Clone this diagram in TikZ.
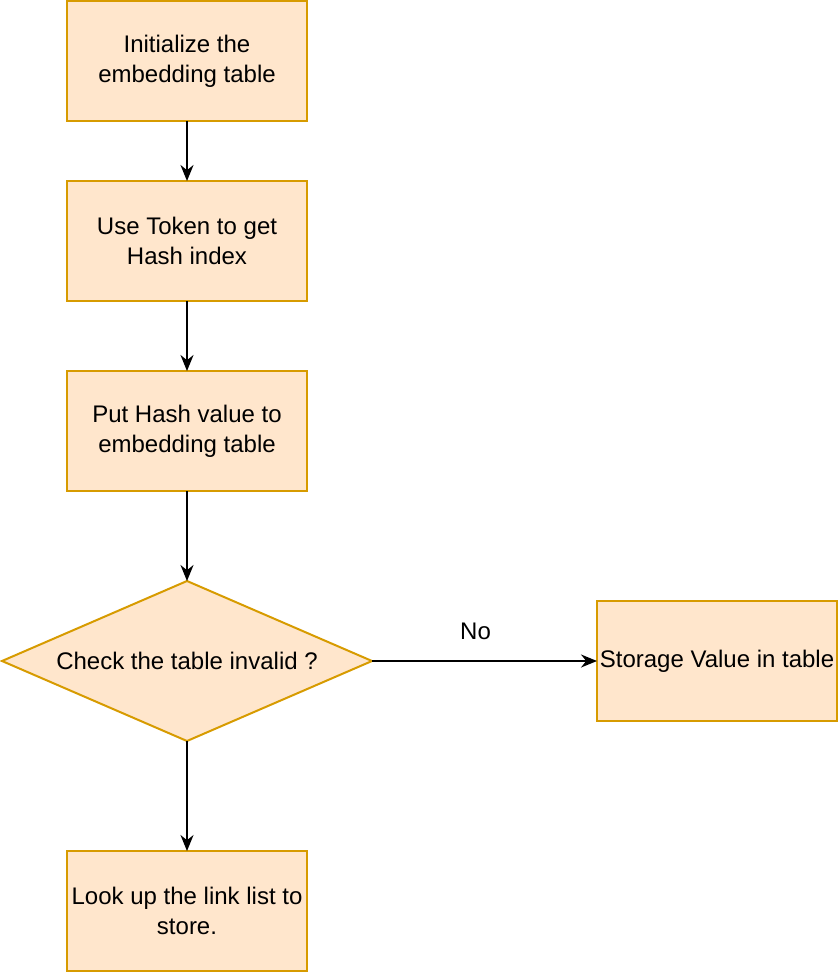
\documentclass[tikz,border=0pt]{standalone}
\usepackage{fontspec}
\setmainfont{Liberation Sans}
\usetikzlibrary{shapes.geometric,arrows.meta,positioning}
\definecolor{boxfill}{RGB}{255,230,204}
\definecolor{boxline}{RGB}{215,155,0}

\begin{document}
\begin{tikzpicture}[node distance=30pt, font=\fontsize{12}{15}\selectfont,
    stepbox/.style={draw=boxline, fill=boxfill, line width=1pt, minimum width=120pt, minimum height=60pt, align=center, inner sep=0pt, outer sep=0pt},
    checkbox/.style={draw=boxline, fill=boxfill, line width=1pt, shape=diamond, aspect=2.3, minimum width=185pt, minimum height=80pt, inner sep=0pt, outer sep=0pt, align=center},
    flow/.style={-{Stealth[length=8pt, width=6.5pt]}, line width=1pt}]
    \useasboundingbox (0pt,0pt) rectangle (419pt,-486pt);
    \node[stepbox] (init) at (93.5pt,-30.5pt) {Initialize the\\embedding table};
    \node[stepbox, below=30pt of init] (hash) {Use Token to get\\Hash index};
    \node[stepbox, below=35pt of hash] (put) {Put Hash value to\\embedding table};
    \node[checkbox, below=45pt of put] (check) {Check the table invalid ?};
    \node[stepbox, right=112.5pt of check] (store) {Storage Value in table};
    \node[stepbox, below=55pt of check] (lookup) {Look up the link list to\\store.};

    \draw[flow] (init) -- (hash);
    \draw[flow] (hash) -- (put);
    \draw[flow] (put) -- (check);
    \draw[flow] (check) -- node[pos=0.46, above=7pt] {No} (store);
    \draw[flow] (check) -- (lookup);
\end{tikzpicture}
\end{document}
